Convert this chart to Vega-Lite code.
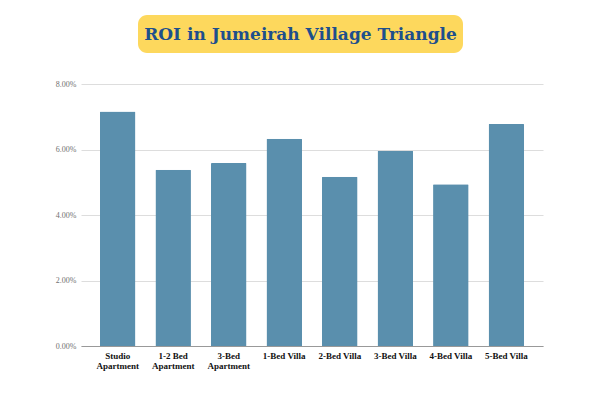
{
  "$schema": "https://vega.github.io/schema/vega-lite/v6.json",
  "background": "white",
  "padding": {"left": 55, "top": 15, "right": 10, "bottom": 5},
  "config": {"view": {"stroke": null}},
  "center": true,
  "spacing": 27,
  "vconcat": [
    {
      "spacing": 0,
      "hconcat": [
        {
          "width": 325,
          "height": 38,
          "data": {"values": [{"title": "ROI in Jumeirah Village Triangle"}]},
          "layer": [
            {"mark": {"type": "rect", "fill": "#fdd85d", "cornerRadius": 9}, "encoding": {}},
            {
              "mark": {"type": "text", "font": "DejaVu Serif", "fontWeight": "bold", "fontSize": 17, "color": "#1d4f8c", "align": "center", "baseline": "middle", "dy": 1},
              "encoding": {"text": {"field": "title"}}
            }
          ]
        },
        {
          "width": 23,
          "height": 38,
          "data": {"values": []},
          "mark": "rect",
          "encoding": {}
        }
      ]
    },
    {
      "width": 462,
      "height": 262,
      "data": {"values": [
        {"type": "Studio Apartment", "roi": 0.0716},
        {"type": "1-2 Bed Apartment", "roi": 0.0538},
        {"type": "3-Bed Apartment", "roi": 0.0559},
        {"type": "1-Bed Villa", "roi": 0.0633},
        {"type": "2-Bed Villa", "roi": 0.0517},
        {"type": "3-Bed Villa", "roi": 0.0596},
        {"type": "4-Bed Villa", "roi": 0.0494},
        {"type": "5-Bed Villa", "roi": 0.0678}
      ]},
      "mark": {"type": "bar", "color": "#5a8fad", "cornerRadiusTopLeft": 1, "cornerRadiusTopRight": 1},
      "encoding": {
        "x": {
          "field": "type", "type": "nominal", "sort": null, "title": null,
          "scale": {"paddingInner": 0.36, "paddingOuter": 0.34},
          "axis": {
            "labelAngle": 0, "ticks": false, "labelPadding": 5,
            "labelFont": "Liberation Serif", "labelFontWeight": "bold", "labelFontSize": 9, "labelColor": "#111",
            "labelLineHeight": 10,
            "domainColor": "#999", "grid": false,
            "labelExpr": "indexof(datum.label, 'Apartment') > 0 ? [replace(datum.label, ' Apartment', ''), 'Apartment'] : datum.label"
          }
        },
        "y": {
          "field": "roi", "type": "quantitative", "title": null,
          "scale": {"domain": [0, 0.08]},
          "axis": {
            "values": [0, 0.02, 0.04, 0.06, 0.08], "format": ".2%",
            "domain": false, "ticks": false, "labelPadding": 5,
            "labelFont": "Liberation Serif", "labelFontSize": 8, "labelColor": "#707070",
            "gridColor": "#dddddd"
          }
        }
      }
    }
  ]
}
